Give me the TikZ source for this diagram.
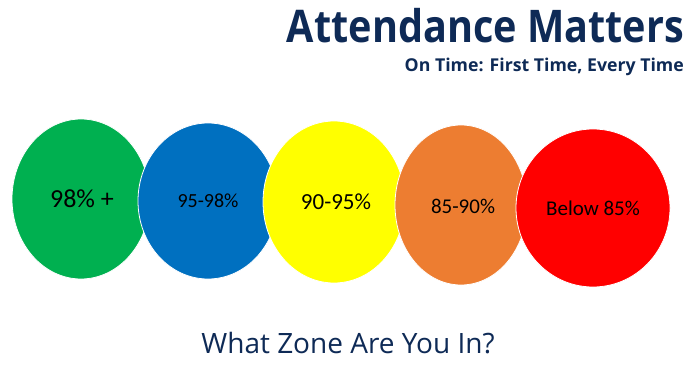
\documentclass[tikz,border=0pt]{standalone}
\usepackage{fontspec}
\setmainfont{Carlito}
\newfontfamily\headfont{Open Sans}
\definecolor{navy}{HTML}{0E2A56}
\definecolor{zgreen}{HTML}{00B050}
\definecolor{zblue}{HTML}{0070C0}
\definecolor{zyellow}{HTML}{FFFF00}
\definecolor{zorange}{HTML}{ED7D31}
\definecolor{zred}{HTML}{FF0000}
\begin{document}
\begin{tikzpicture}[x=1pt,y=-1pt,
  zone/.style={draw=white,line width=0.8pt},
  lbl/.style={text=black,inner sep=0pt,anchor=center}]
\useasboundingbox[fill=white] (0,0) rectangle (700,371);
% zones
\fill[zgreen,zone] (81,199) ellipse [x radius=69,y radius=80];
\node[lbl,font=\fontsize{26}{28}\selectfont] (z1) at (82,199) {98\% +};
\fill[zblue,zone] (208,201) ellipse [x radius=70,y radius=78];
\node[lbl,font=\fontsize{20}{22}\selectfont] (z2) at (208,201) {95-98\%};
\fill[zyellow,zone] (334,202) ellipse [x radius=71,y radius=81];
\node[lbl,font=\fontsize{23}{25}\selectfont] (z3) at (336,202) {90-95\%};
\fill[zorange,zone] (461,205) ellipse [x radius=66,y radius=80];
\node[lbl,font=\fontsize{21}{23}\selectfont] (z4) at (463,206) {85-90\%};
\fill[zred,zone] (593,208) ellipse [x radius=77,y radius=79];
\node[lbl,font=\fontsize{21}{23}\selectfont] (z5) at (593,208) {Below 85\%};
% titles
\node[anchor=base east,inner sep=0pt,text=navy,font=\headfont\bfseries\fontsize{45}{50}\selectfont] (title) at (684,43) {\scalebox{0.88}[1]{Attendance Matters}};
\node[anchor=base east,inner sep=0pt,text=navy,font=\headfont\bfseries\fontsize{17.7}{20}\selectfont] (sub) at (684,72) {On Time: First Time, Every Time};
\node[anchor=base,inner sep=0pt,text=navy,font=\headfont\fontsize{28}{32}\selectfont] (q) at (348,353) {What Zone Are You In?};
\end{tikzpicture}
\end{document}
